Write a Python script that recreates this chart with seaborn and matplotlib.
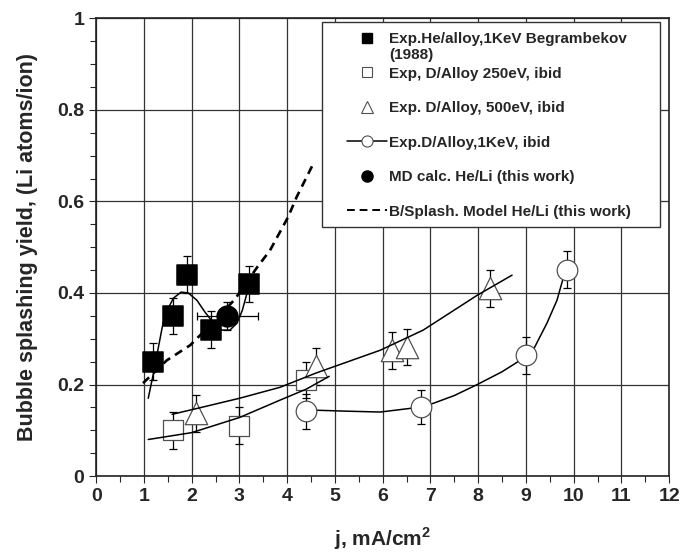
import numpy as np
import pandas as pd
import matplotlib
matplotlib.use("Agg")
import matplotlib.pyplot as plt
from matplotlib.lines import Line2D
from matplotlib.patches import Rectangle
from matplotlib.ticker import MultipleLocator, FuncFormatter
import seaborn as sns

he_j = [1.2, 1.6, 1.9, 2.4, 3.2]
he_yield = [0.25, 0.35, 0.44, 0.32, 0.42]
he_err = [0.04, 0.04, 0.04, 0.04, 0.04]

md_j = [2.75]
md_yield = [0.35]
md_jerr = [0.63]
md_err = [0.03]

d250_j = [1.6, 3.0, 4.4]
d250_yield = [0.10, 0.11, 0.21]
d250_err = [0.04, 0.04, 0.04]

d500_j = [2.1, 4.6, 6.2, 6.5, 8.25]
d500_yield = [0.137, 0.24, 0.275, 0.282, 0.41]
d500_err = [0.04, 0.04, 0.04, 0.04, 0.04]

d1k_j = [4.4, 6.8, 9.0, 9.87]
d1k_yield = [0.142, 0.151, 0.264, 0.451]
d1k_err = [0.038, 0.038, 0.04, 0.04]

# --- curves drawn through the data ---
he_fit_j = [1.09, 1.2, 1.3, 1.4, 1.51, 1.62, 1.78, 1.93, 2.11, 2.28, 2.46,
            2.63, 2.8, 2.95, 3.06, 3.16, 3.22]
he_fit_y = [0.17, 0.225, 0.28, 0.334, 0.367, 0.389, 0.402, 0.4, 0.384, 0.358,
            0.334, 0.319, 0.319, 0.334, 0.362, 0.4, 0.42]

model_j = [0.98, 1.48, 1.97, 2.18, 2.5, 2.91, 3.37, 3.64, 4.02, 4.2, 4.55]
model_y = [0.203, 0.253, 0.286, 0.308, 0.34, 0.387, 0.456, 0.493, 0.566, 0.61, 0.683]

d250_fit_j = [1.09, 2.0, 3.0, 3.85, 4.4, 4.88]
d250_fit_y = [0.08, 0.095, 0.128, 0.166, 0.19, 0.218]

d500_fit_j = [1.59, 2.2, 3.0, 3.85, 4.6, 5.95, 6.85, 7.98, 8.71]
d500_fit_y = [0.135, 0.15, 0.17, 0.194, 0.225, 0.275, 0.319, 0.395, 0.439]

d1k_fit_j = [4.4, 4.59, 5.2, 5.95, 6.58, 6.8, 7.06, 7.5, 7.98, 8.5, 8.82,
             8.98, 9.15, 9.44, 9.65, 9.78, 9.86]
d1k_fit_y = [0.142, 0.144, 0.142, 0.14, 0.148, 0.151, 0.159, 0.176, 0.2, 0.228,
             0.249, 0.264, 0.275, 0.334, 0.384, 0.432, 0.451]

labels = ["Exp.He/alloy,1KeV Begrambekov",
          "Exp, D/Alloy 250eV, ibid",
          "Exp. D/Alloy, 500eV, ibid",
          "Exp.D/Alloy,1KeV, ibid",
          "MD calc. He/Li (this work)",
          "B/Splash. Model He/Li (this work)"]
label_extra = "(1988)"

sns.set_style("ticks")
plt.rcParams["font.family"] = ["Liberation Sans", "DejaVu Sans"]
plt.rcParams["font.weight"] = "bold"
plt.rcParams["mathtext.fontset"] = "custom"
plt.rcParams["mathtext.bf"] = "Liberation Sans:bold"
plt.rcParams["mathtext.rm"] = "Liberation Sans:bold"

EDGE = "#505050"

fig, ax = plt.subplots(figsize=(6.92, 5.53), dpi=100)
fig.subplots_adjust(left=0.139, right=0.967, bottom=0.139, top=0.967)

# curves
sns.lineplot(x=he_fit_j, y=he_fit_y, sort=False, estimator=None, color="black",
             lw=1.1, ax=ax, zorder=5)
sns.lineplot(x=model_j, y=model_y, sort=False, estimator=None, color="black",
             lw=1.9, ax=ax, zorder=5, dashes=False, linestyle=(0, (3.2, 2.2)))
sns.lineplot(x=d250_fit_j, y=d250_fit_y, sort=False, estimator=None, color="black",
             lw=1.1, ax=ax, zorder=5)
sns.lineplot(x=d500_fit_j, y=d500_fit_y, sort=False, estimator=None, color="black",
             lw=1.1, ax=ax, zorder=5)
sns.lineplot(x=d1k_fit_j, y=d1k_fit_y, sort=False, estimator=None, color="black",
             lw=1.1, ax=ax, zorder=2)

# error bars
eb = dict(fmt="none", ecolor="black", elinewidth=0.9, capsize=3, capthick=0.9, zorder=3)
ax.errorbar(he_j, he_yield, yerr=he_err, **eb)
ax.errorbar(md_j, md_yield, xerr=md_jerr, yerr=md_err, **eb)
ax.errorbar(d250_j, d250_yield, yerr=d250_err, **eb)
ax.errorbar(d500_j, d500_yield, yerr=d500_err, **eb)
ax.errorbar(d1k_j, d1k_yield, yerr=d1k_err, **eb)

# markers
sns.scatterplot(x=d250_j, y=d250_yield, marker="s", s=190, color="white",
                edgecolor=EDGE, linewidth=0.9, ax=ax, zorder=4)
sns.scatterplot(x=d500_j, y=d500_yield, marker="^", s=260, color="white",
                edgecolor=EDGE, linewidth=0.9, ax=ax, zorder=4)
sns.scatterplot(x=d1k_j, y=d1k_yield, marker="o", s=220, color="white",
                edgecolor=EDGE, linewidth=0.9, ax=ax, zorder=4)
sns.scatterplot(x=he_j, y=he_yield, marker="s", s=190, color="black",
                edgecolor="black", ax=ax, zorder=4)
sns.scatterplot(x=md_j, y=md_yield, marker="o", s=220, color="black",
                edgecolor="black", ax=ax, zorder=4)

ax.set_xlim(0, 12)
ax.set_ylim(0, 1)
ax.xaxis.set_major_locator(MultipleLocator(1))
ax.xaxis.set_minor_locator(MultipleLocator(0.5))
ax.yaxis.set_major_locator(MultipleLocator(0.2))
ax.yaxis.set_minor_locator(MultipleLocator(0.05))
ax.yaxis.set_major_formatter(FuncFormatter(lambda v, _: f"{v:g}"))
ax.grid(True, which="major", color="#333333", lw=0.9)
ax.set_axisbelow(True)
ax.tick_params(which="major", direction="out", length=5, width=0.8, labelsize=14)
ax.tick_params(which="minor", direction="out", length=4, width=0.8)
for sp in ax.spines.values():
    sp.set_color("#222222")
    sp.set_linewidth(1.2)

ax.set_xlabel(r"j, mA/cm$^{\mathbf{2}}$", fontsize=15, fontweight="bold", labelpad=15)
ax.set_ylabel("Bubble splashing yield, (Li atoms/ion)", fontsize=15.5,
              fontweight="bold", labelpad=14)

# legend: white box, entries placed inside it
box = Rectangle((0.394, 0.544), 0.590, 0.447, transform=ax.transAxes,
                facecolor="white", edgecolor="#333333", lw=1.0, zorder=9)
ax.add_patch(box)

handles = [
    Line2D([], [], ls="none", marker="s", ms=7, mfc="black", mec="black"),
    Line2D([], [], ls="none", marker="s", ms=7, mfc="white", mec=EDGE, mew=0.8),
    Line2D([], [], ls="none", marker="^", ms=8, mfc="white", mec=EDGE, mew=0.8),
    Line2D([], [], ls="-", color="black", lw=1.1, marker="o", ms=8, mfc="white",
           mec=EDGE, mew=0.8),
    Line2D([], [], ls="none", marker="o", ms=8, mfc="black", mec="black"),
    Line2D([], [], ls=(0, (4, 2.5)), color="black", lw=1.4),
]
leg = ax.legend(handles, labels, loc="upper left", bbox_to_anchor=(0.438, 0.9695),
                borderaxespad=0, borderpad=0, frameon=False, labelspacing=1.34,
                handlelength=2.6, handletextpad=0.15,
                prop={"weight": "bold", "size": 11})
leg.set_zorder(10)

# second line of the first legend label, squeezed in like the original
fig.canvas.draw()
bb = leg.get_texts()[0].get_window_extent()
ax.annotate(label_extra, xy=(bb.x0, bb.y0), xycoords="figure pixels",
            xytext=(0, -1.5), textcoords="offset points", va="top", ha="left",
            fontsize=11, fontweight="bold", zorder=11)

fig.savefig("out.png", dpi=100)
plt.close(fig)
